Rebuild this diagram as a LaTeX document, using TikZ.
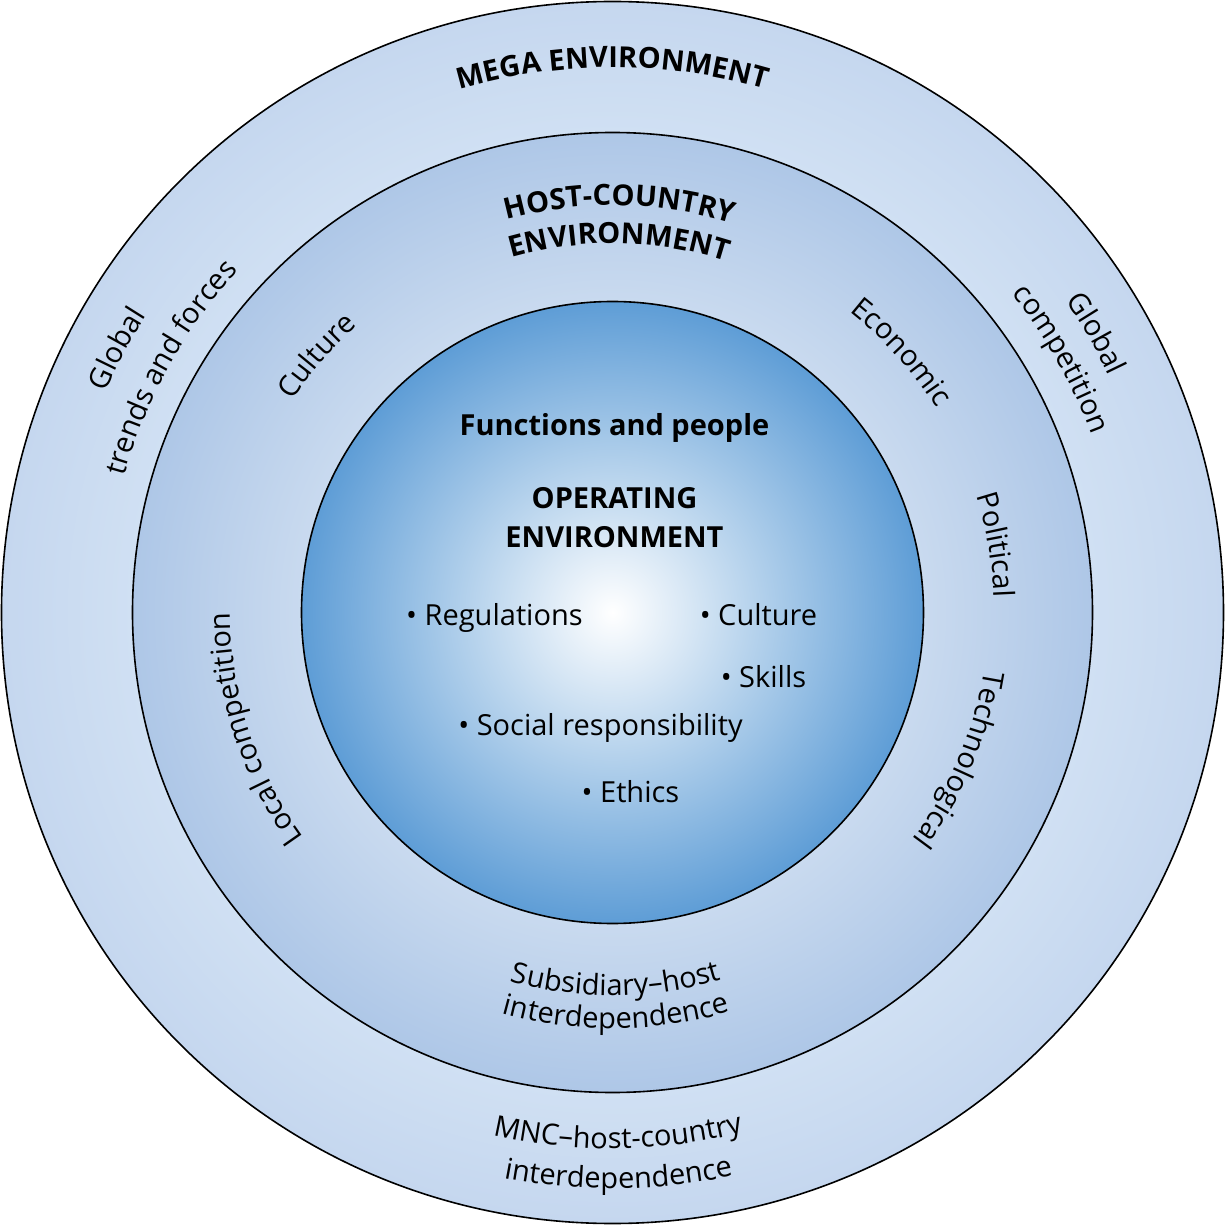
\documentclass[tikz,border=0pt]{standalone}
\usepackage{fontspec}
\setmainfont{Open Sans}
\usepackage{tikz}
\usetikzlibrary{decorations.text}

\definecolor{megain}{HTML}{D0E0F3}
\definecolor{megaout}{HTML}{C5D7EF}
\definecolor{hostin}{HTML}{C9DAEF}
\definecolor{hostout}{HTML}{AEC7E7}
\definecolor{operout}{HTML}{5E9DD6}

\pgfdeclareradialshading{megashade}{\pgfpoint{0bp}{0bp}}{color(0bp)=(megain); color(19.6bp)=(megain); color(25bp)=(megaout); color(50bp)=(megaout)}
\pgfdeclareradialshading{hostshade}{\pgfpoint{0bp}{0bp}}{color(0bp)=(hostin); color(16.2bp)=(hostin); color(25bp)=(hostout); color(50bp)=(hostout)}
\pgfdeclareradialshading{opershade}{\pgfpoint{0bp}{0bp}}{color(0bp)=(white); color(25bp)=(operout); color(50bp)=(operout)}

\newcommand{\ringfont}{\fontsize{29}{35}\selectfont}
\newcommand{\ringbold}{\fontsize{29}{35}\selectfont\bfseries}

\begin{document}
\begin{tikzpicture}[x=1pt,y=1pt,
  ring/.style={circle,draw,line width=1.6pt,inner sep=0pt,shade},
  ringtext/.style={decorate,decoration={text along path,text align=center,text={#1}}},
  item/.style={anchor=base,font=\ringfont}]
  \useasboundingbox (-612.5,-612.5) rectangle (612.5,612.5);

  % the three environments
  \node[ring,shading=megashade,minimum size=1222pt] (mega) at (0,0) {};
  \node[ring,shading=hostshade,minimum size=960pt] (host) at (0,0) {};
  \node[ring,shading=opershade,minimum size=622pt] (oper) at (0,0) {};

  % outer ring
  \path[ringtext={|\ringbold|MEGA ENVIRONMENT}] (125:545) arc[start angle=125,end angle=55,radius=545];
  \path[ringtext={|\ringfont|Global}] (192:553) arc[start angle=192,end angle=112,radius=553];
  \path[ringtext={|\ringfont|trends and forces}] (191:507) arc[start angle=191,end angle=111,radius=507];
  \path[ringtext={|\ringfont|Global}] (70:550) arc[start angle=70,end angle=-10,radius=550];
  \path[ringtext={|\ringfont|competition}] (69.5:511) arc[start angle=69.5,end angle=-10.5,radius=511];
  \path[ringtext={|\ringfont|MNC–host-country}] (235.6:536) arc[start angle=235.6,end angle=305.6,radius=536];
  \path[ringtext={|\ringfont|interdependence}] (235.6:576) arc[start angle=235.6,end angle=305.6,radius=576];

  % middle ring
  \path[ringtext={|\ringbold|HOST-COUNTRY}] (129:407) arc[start angle=129,end angle=49,radius=407];
  \path[ringtext={|\ringbold|ENVIRONMENT}] (129:369) arc[start angle=129,end angle=49,radius=369];
  \path[ringtext={|\ringfont|Culture}] (179:384) arc[start angle=179,end angle=99,radius=384];
  \path[ringtext={|\ringfont|Economic}] (82:383) arc[start angle=82,end angle=2,radius=383];
  \path[ringtext={|\ringfont|Political}] (50:382) arc[start angle=50,end angle=-30,radius=382];
  \path[ringtext={|\ringfont|Technological}] (17:376) arc[start angle=17,end angle=-63,radius=376];
  \path[ringtext={|\ringfont|Local competition}] (238:382) arc[start angle=238,end angle=158,radius=382];
  \path[ringtext={|\ringfont|Subsidiary–host}] (230.5:383) arc[start angle=230.5,end angle=310.5,radius=383];
  \path[ringtext={|\ringfont|interdependence}] (230.5:416) arc[start angle=230.5,end angle=310.5,radius=416];

  % operating environment
  \node[item,font=\ringbold] (func) at (2,177) {Functions and people};
  \node[item,font=\ringbold] (optitle) at (2,104) {OPERATING};
  \node[item,font=\ringbold] (optitlb) at (2,65) {ENVIRONMENT};
  \node[item] (regul) at (-118,-13) {• Regulations};
  \node[item] (cult) at (146,-13) {• Culture};
  \node[item] (skill) at (151,-75) {• Skills};
  \node[item] (social) at (-12,-123) {• Social responsibility};
  \node[item] (ethic) at (18,-190) {• Ethics};
\end{tikzpicture}
\end{document}
